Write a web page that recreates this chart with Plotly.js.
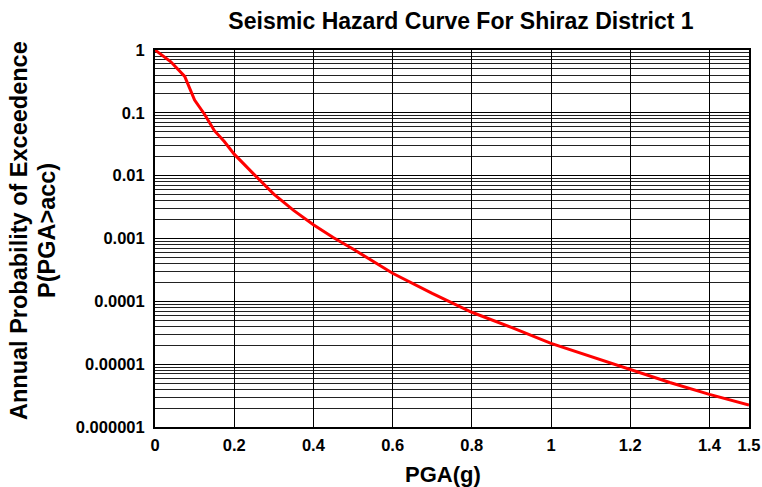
<!DOCTYPE html>
<html>
<head>
<meta charset="utf-8">
<script src="https://cdn.plot.ly/plotly-3.0.1.min.js"></script>
<style>
html,body{margin:0;padding:0;background:#fff;}
#chart{width:762px;height:487px;}
</style>
</head>
<body>
<div id="chart"></div>
<script>
const pga = [0, 0.04, 0.075, 0.1, 0.125, 0.15, 0.175, 0.2, 0.25, 0.3, 0.35, 0.4, 0.45, 0.5, 0.6, 0.7, 0.8, 0.9, 1.0, 1.1, 1.2, 1.3, 1.4, 1.5];
const prob = [1, 0.65, 0.38, 0.16, 0.095, 0.052, 0.035, 0.022, 0.0105, 0.0051, 0.0028, 0.00165, 0.00104, 0.00068, 0.00028, 0.000134, 0.000067, 0.0000385, 0.0000214, 0.0000132, 0.0000081, 0.0000051, 0.0000033, 0.00000224];
const xTickVals = [0, 0.2, 0.4, 0.6, 0.8, 1, 1.2, 1.4, 1.5];
const xTickText = ['0', '0.2', '0.4', '0.6', '0.8', '1', '1.2', '1.4', '1.5'];
const yTickVals = [1, 0.1, 0.01, 0.001, 0.0001, 0.00001, 0.000001];
const yTickText = ['1', '0.1', '0.01', '0.001', '0.0001', '0.00001', '0.000001'];
const yMinorVals = [];
for (const d of [0.1, 0.01, 0.001, 0.0001, 0.00001, 0.000001]) {
  for (const k of [2,3,4,5,6,7,8,9]) yMinorVals.push(k * d);
}
const titleText = 'Seismic Hazard Curve For Shiraz District 1';
const xTitle = 'PGA(g)';
const yTitle1 = 'Annual Probability of Exceedence';
const yTitle2 = 'P(PGA>acc)';

const font = {family: 'Arial, "Liberation Sans", sans-serif', color: '#000'};
const W = 762, H = 487, L = 155, R = 13, T = 50, B = 60;
const pw = W - L - R, ph = H - T - B;
const px2x = p => (p - L) / pw;
const px2y = p => (H - B - p) / ph;

const trace = {
  x: pga, y: prob, type: 'scatter', mode: 'lines',
  line: {color: '#ff0000', width: 3, shape: 'linear'},
  showlegend: false, hoverinfo: 'none'
};

const layout = {
  width: W, height: H,
  margin: {l: L, r: R, t: T, b: B, pad: 0},
  paper_bgcolor: '#fff', plot_bgcolor: '#fff',
  title: {
    text: titleText,
    font: Object.assign({}, font, {size: 23, weight: 'bold'}),
    x: 461/W, xanchor: 'center', xref: 'container',
    y: 1 - 21/H, yanchor: 'middle', yref: 'container'
  },
  xaxis: {
    range: [0, 1.5], type: 'linear',
    tickmode: 'array', tickvals: xTickVals, ticktext: xTickText,
    showgrid: true, gridcolor: '#000', gridwidth: 1,
    zeroline: false,
    showline: true, linecolor: '#000', linewidth: 2, mirror: true,
    ticks: '', ticklabelstandoff: 2,
    tickfont: Object.assign({}, font, {size: 16.5, weight: 'bold'}),
    automargin: false, fixedrange: true
  },
  yaxis: {
    type: 'log', range: [-6, 0],
    tickmode: 'array', tickvals: yTickVals, ticktext: yTickText,
    showgrid: true, gridcolor: '#000', gridwidth: 1,
    minor: {tickmode: 'array', tickvals: yMinorVals, showgrid: true, gridcolor: '#222', gridwidth: 1, ticks: ''},
    zeroline: false,
    showline: true, linecolor: '#000', linewidth: 2, mirror: true,
    ticks: '', ticklabelstandoff: 5,
    tickfont: Object.assign({}, font, {size: 16.5, weight: 'bold'}),
    automargin: false, fixedrange: true
  },
  annotations: [
    {text: xTitle, xref: 'paper', yref: 'paper', x: px2x(443), y: px2y(474),
     xanchor: 'center', yanchor: 'middle', showarrow: false,
     font: Object.assign({}, font, {size: 22, weight: 'bold'})},
    {text: yTitle1, xref: 'paper', yref: 'paper', x: px2x(19), y: px2y(231),
     xanchor: 'center', yanchor: 'middle', showarrow: false, textangle: -90,
     font: Object.assign({}, font, {size: 23.5, weight: 'bold'})},
    {text: yTitle2, xref: 'paper', yref: 'paper', x: px2x(47), y: px2y(231),
     xanchor: 'center', yanchor: 'middle', showarrow: false, textangle: -90,
     font: Object.assign({}, font, {size: 23.5, weight: 'bold'})}
  ]
};

Plotly.newPlot('chart', [trace], layout, {displayModeBar: false, staticPlot: true});
</script>
</body>
</html>
